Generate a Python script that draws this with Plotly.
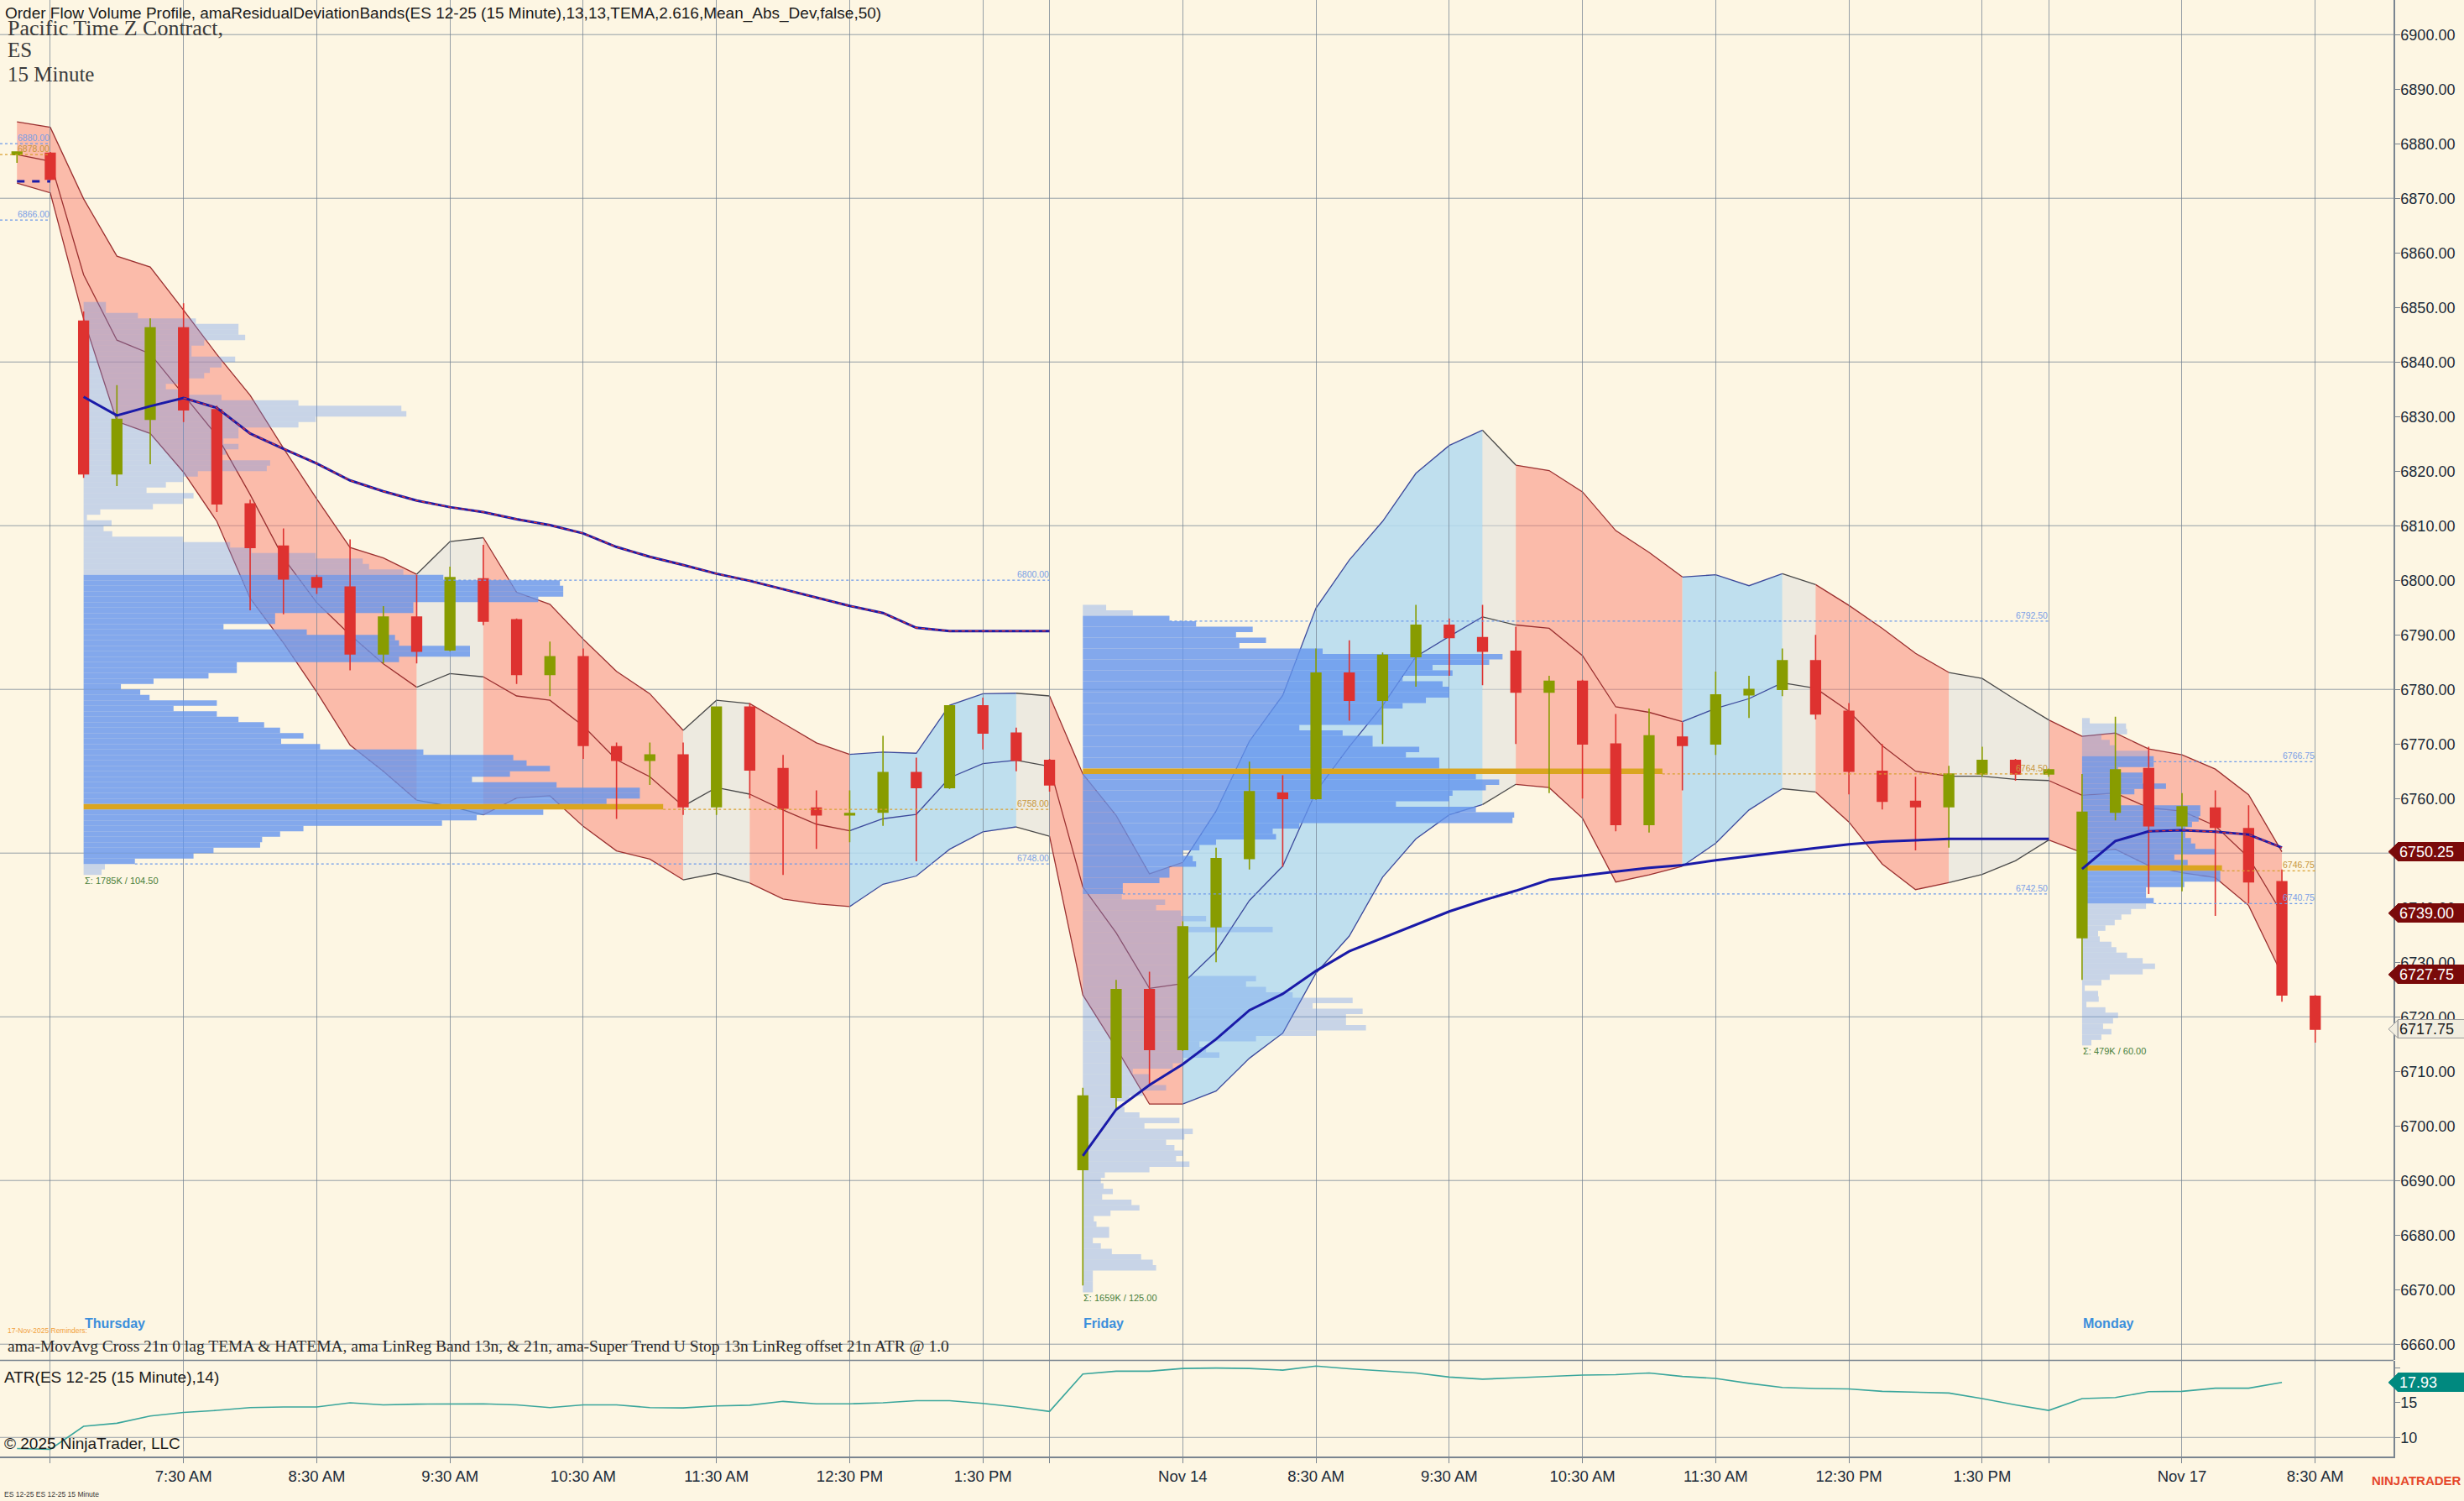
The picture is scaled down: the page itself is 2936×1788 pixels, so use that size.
import plotly.graph_objects as go

# ---------------------------------------------------------------- data
# x = bar number on the 15 minute chart (session 6:30 AM - 2:00 PM PT)
BAR_IDX = list(range(-1, 69))
OPEN = [6878.0, 6878.25, 6847.5, 6819.5, 6829.5, 6846.25, 6831.25, 6814.0, 6806.25, 6800.5,   # -1..8
        6798.75, 6786.5, 6793.25, 6787.25, 6800.25, 6792.75, 6782.75, 6786.0, 6769.5, 6767.0,  # 9..18
        6768.0, 6758.5, 6776.75, 6765.5, 6758.25, 6757.0, 6757.5, 6764.75, 6762.0, 6777.0,     # 19..28
        6772.0, 6767.0,                                                                        # 29..30
        6692.0, 6705.25, 6725.0, 6714.0, 6736.5, 6749.0, 6761.0, 6760.0, 6783.0, 6778.0,       # 31..40
        6786.0, 6791.75, 6789.5, 6787.0, 6779.5, 6781.5, 6770.0, 6755.25, 6771.25, 6770.0,     # 41..50
        6779.0, 6780.0, 6785.25, 6776.0, 6765.0, 6759.5, 6758.5, 6764.5, 6767.0, 6764.5,       # 51..60
        6734.5, 6757.5, 6765.5, 6755.0, 6758.25, 6754.5, 6744.75, 6723.75]                    # 61..68
HIGH = [6878.5, 6878.5, 6849.25, 6835.75, 6848.0, 6850.75, 6832.0, 6814.75, 6809.5, 6801.0,
        6807.5, 6795.25, 6801.0, 6802.5, 6806.5, 6793.0, 6788.75, 6787.5, 6770.25, 6770.25,
        6770.25, 6776.75, 6777.5, 6768.0, 6761.5, 6761.5, 6771.5, 6767.5, 6777.0, 6778.5,
        6773.0, 6767.25,
        6707.0, 6726.75, 6728.25, 6737.5, 6751.0, 6766.75, 6764.25, 6787.5, 6789.0, 6786.75,
        6795.5, 6793.0, 6795.5, 6791.5, 6782.5, 6781.75, 6775.5, 6776.5, 6774.0, 6783.25,
        6782.5, 6787.5, 6790.0, 6777.5, 6770.0, 6764.0, 6766.0, 6769.5, 6767.25, 6765.5,
        6764.5, 6775.0, 6769.5, 6761.0, 6761.5, 6758.75, 6747.0, 6724.0]
LOW = [6876.5, 6873.25, 6818.75, 6817.25, 6821.25, 6829.0, 6812.5, 6794.5, 6793.75, 6797.5,
       6783.5, 6784.75, 6784.75, 6787.0, 6791.75, 6781.0, 6778.75, 6767.25, 6756.25, 6762.5,
       6757.0, 6757.0, 6760.0, 6746.0, 6750.75, 6752.0, 6755.0, 6748.5, 6761.75, 6769.0,
       6765.0, 6761.25,
       6670.75, 6703.0, 6707.5, 6713.75, 6730.0, 6747.0, 6747.5, 6759.75, 6774.25, 6770.0,
       6780.5, 6782.5, 6780.75, 6770.0, 6761.0, 6760.0, 6754.0, 6753.75, 6761.5, 6768.0,
       6774.75, 6778.75, 6774.5, 6760.75, 6758.0, 6750.5, 6751.0, 6764.0, 6763.25, 6764.0,
       6726.75, 6756.0, 6742.5, 6743.0, 6738.5, 6740.75, 6722.75, 6715.25]
CLOSE = [6878.5, 6873.5, 6819.5, 6829.5, 6846.25, 6831.25, 6814.0, 6806.0, 6800.25, 6798.75,
         6786.5, 6793.25, 6787.0, 6800.5, 6792.5, 6782.75, 6786.0, 6769.75, 6767.0, 6768.0,
         6758.5, 6776.75, 6765.25, 6758.25, 6757.0, 6757.25, 6764.75, 6762.0, 6777.0, 6772.0,
         6767.0, 6762.5,
         6705.5, 6725.0, 6714.0, 6736.5, 6749.0, 6761.25, 6760.0, 6783.0, 6778.0, 6786.25,
         6791.75, 6789.5, 6787.0, 6779.5, 6781.5, 6770.0, 6755.25, 6771.5, 6769.75, 6779.0,
         6780.0, 6785.25, 6775.5, 6765.0, 6759.5, 6758.5, 6764.5, 6767.0, 6764.5, 6765.25,
         6757.5, 6765.25, 6755.0, 6758.5, 6754.75, 6744.75, 6724.0, 6717.75]

# amaResidualDeviationBands, bars -1..67
BAND_IDX = list(range(-1, 68))
BAND_UPPER = [6884.0, 6883.0, 6869.9, 6859.4, 6857.4, 6849.5, 6841.4, 6833.9, 6824.2, 6814.9,
              6806.0, 6804.1, 6801.1, 6807.1, 6807.8, 6797.8, 6795.6, 6789.2, 6783.3, 6779.2,
              6772.5, 6778.0, 6777.4, 6773.8, 6770.2, 6768.1, 6768.5, 6768.3, 6777.1, 6779.2,
              6779.3, 6778.8,
              6764.5, 6756.9, 6746.2, 6748.3, 6757.7, 6770.5, 6778.9, 6794.9, 6803.7, 6810.8,
              6819.6, 6824.7, 6827.5, 6821.1, 6820.1, 6816.2, 6809.1, 6805.1, 6800.6, 6801.0,
              6799.0, 6801.2, 6799.2, 6795.4, 6791.2, 6786.6, 6783.1, 6782.0, 6778.1, 6774.4,
              6771.4, 6772.0, 6769.1, 6768.0, 6765.4, 6760.7, 6750.25]
BAND_MID = [6878.0, 6876.8, 6856.0, 6844.0, 6841.5, 6834.0, 6826.5, 6815.7, 6804.1, 6795.9,
            6790.0, 6784.7, 6780.4, 6782.9, 6782.3, 6778.8, 6778.0, 6773.3, 6767.1, 6764.0,
            6758.6, 6762.0, 6760.8, 6757.9, 6755.3, 6754.1, 6756.3, 6757.1, 6763.8, 6766.4,
            6767.0, 6765.9,
            6743.8, 6735.4, 6725.2, 6726.1, 6732.0, 6741.3, 6747.6, 6761.3, 6769.5, 6777.0,
            6786.0, 6789.7, 6793.3, 6791.8, 6791.2, 6786.2, 6776.8, 6775.8, 6774.1, 6776.5,
            6778.3, 6781.2, 6780.2, 6776.0, 6769.7, 6765.0, 6764.1, 6764.1, 6763.5, 6763.3,
            6760.6, 6761.0, 6758.3, 6757.7, 6755.0, 6749.2, 6739.0]
BAND_LOWER = [6872.8, 6871.0, 6847.9, 6829.1, 6826.9, 6819.8, 6810.8, 6796.7, 6788.5, 6779.5,
              6769.8, 6765.0, 6759.7, 6758.6, 6757.0, 6760.1, 6760.5, 6754.9, 6750.4, 6748.9,
              6745.1, 6746.3, 6744.5, 6741.6, 6740.7, 6740.2, 6744.3, 6745.8, 6750.7, 6753.9,
              6754.8, 6753.1,
              6724.0, 6714.3, 6704.0, 6704.0, 6706.4, 6712.4, 6717.0, 6728.0, 6734.8, 6745.6,
              6752.6, 6757.0, 6758.9, 6762.6, 6762.0, 6756.4, 6744.7, 6746.0, 6747.6, 6751.8,
              6757.9, 6761.8, 6761.2, 6755.7, 6748.0, 6743.3, 6744.6, 6746.1, 6748.6, 6752.4,
              6750.1, 6750.7, 6747.7, 6746.4, 6745.5, 6740.4, 6727.75]
# trend of the band segment that starts at each bar (d = down, u = up, f = flat)
BAND_TREND = ["d", "d", "d", "d", "d", "d", "d", "d", "d", "d", "d", "d",   # -1..10
              "f", "f", "d", "d", "d", "d", "d", "d", "f", "f",             # 11..20
              "d", "d", "d", "u", "u", "u", "u", "u", "f",                  # 21..29
              "d", "d", "d", "d", "u", "u", "u", "u", "u", "u", "u", "u", "u",  # 30..42
              "f", "d", "d", "d", "d", "d", "u", "u", "u", "f",             # 43..52
              "d", "d", "d", "d", "f", "f", "f",                            # 53..59
              "d", "d", "d", "d", "d", "d", "d"]                            # 60..66

# session moving average
MA_PREV_IDX = [-1, 0]
MA_PREV = [6873.1, 6873.1]
MA_THU_IDX = list(range(1, 31))
MA_THU = [6833.6, 6830.2, 6831.9, 6833.4, 6831.6, 6826.9, 6824.1, 6821.4, 6818.3, 6816.3,
          6814.6, 6813.4, 6812.5, 6811.2, 6810.1, 6808.6, 6806.1, 6804.3, 6802.8, 6801.2,
          6799.9, 6798.4, 6796.9, 6795.3, 6794.0, 6791.3, 6790.7, 6790.7, 6790.7, 6790.7]
MA_FRI_IDX = list(range(31, 61))
MA_FRI = [6694.5, 6703.0, 6707.5, 6711.3, 6715.9, 6721.2, 6724.2, 6728.4, 6732.0, 6734.4,
          6736.8, 6739.3, 6741.3, 6743.1, 6745.1, 6745.9, 6746.6, 6747.3, 6747.8, 6748.7,
          6749.5, 6750.2, 6750.9, 6751.6, 6752.1, 6752.4, 6752.6, 6752.6, 6752.6, 6752.6]
MA_MON_IDX = list(range(61, 68))
MA_MON = [6747.1, 6752.2, 6754.0, 6754.2, 6753.9, 6753.4, 6751.0]
MA_FALL_START = [4, 63]
MA_FALL_END = [30, 67]

# ATR(14), bars -1..67
ATR_IDX = list(range(-1, 68))
ATR = [8.4, 8.3, 11.6, 12.05, 13.1, 13.6, 13.9, 14.3, 14.4, 14.4,
       15.0, 14.7, 14.8, 14.85, 14.85, 14.7, 14.3, 14.7, 14.7, 14.3,
       14.25, 14.55, 14.65, 15.2, 14.85, 14.85, 15.0, 15.3, 15.3, 14.9,
       14.4, 13.75,
       19.15, 19.55, 19.55, 19.95, 20.0, 19.95, 19.7, 20.3, 19.9, 19.6,
       19.3, 18.7, 18.4, 18.6, 18.8, 19.0, 19.05, 19.3, 18.8, 18.5,
       17.8, 17.2, 17.05, 17.0, 16.65, 16.5, 16.4, 15.6, 14.7, 13.9,
       15.6, 15.75, 16.6, 16.65, 17.1, 17.1, 17.93]

# volume profiles: one row per point, widths in bars, rows listed from the top
THU_ANCHOR, THU_ROW_TOP = 1, 6850.5
THU_WIDTHS = [0.67, 0.67, 1.63, 3.37, 4.65, 4.65, 4.85, 3.62, 3.24, 3.24,
              4.55, 4.14, 3.79, 3.62, 2.98, 2.47, 2.85, 4.14, 6.45, 9.54,
              9.69, 6.97, 6.45, 4.65, 4.65, 4.2, 4.65, 4.27, 4.14, 5.6,
              5.5, 3.43, 2.98, 2.47, 1.89, 3.3, 2.98, 2.08, 0.5, 0.1,
              0.84, 0.6, 0.86, 2.98, 4.4, 5.04, 6.97, 8.38, 8.57, 9.6,
              10.8, 14.3, 14.4, 14.4, 13.65, 9.9, 9.9, 5.75, 5.75, 4.2,
              6.7, 9.35, 9.47, 11.6, 11.6, 9.47, 4.6, 4.6, 3.75, 2.1,
              1.12, 1.7, 1.98, 4.0, 2.7, 4.0, 4.65, 5.42, 5.9, 6.6,
              5.93, 7.1, 10.2, 12.9, 13.3, 14.0, 12.8, 11.66, 14.2, 16.7,
              16.7, 15.7, 17.4, 13.8, 11.8, 10.76, 6.6, 5.9, 5.36, 5.3,
              3.9, 3.3, 1.54, 0.64, 0.54]
FRI_ANCHOR, FRI_ROW_TOP = 31, 6795.0
FRI_WIDTHS = [0.7, 1.5, 2.6, 3.4, 5.1, 4.6, 5.5, 4.7, 7.2, 12.6,
              12.2, 10.5, 11.1, 9.6, 10.8, 11.0, 11.0, 10.3, 9.6, 9.0,
              9.0, 9.0, 6.5, 7.8, 8.7, 8.7, 10.1, 9.7, 10.7, 10.7,
              17.4, 11.8, 12.5, 12.1, 11.1, 11.0, 9.4, 11.8, 12.95, 12.9,
              6.5, 5.7, 5.8, 4.0, 3.5, 3.0, 3.3, 3.4, 2.6, 2.6,
              2.3, 1.2, 1.2,
              1.17, 2.47, 2.2, 2.95, 3.7, 2.95, 5.7, 2.97, 3.0, 3.0,
              3.0, 3.0, 3.0, 3.0, 3.0, 5.2, 4.9, 5.5, 6.3, 8.1,
              6.9, 8.4, 7.9, 7.9, 8.5, 7.0, 5.2, 3.5, 3.7, 4.1,
              3.0, 2.7, 1.5, 2.0, 2.0, 2.5, 1.8, 1.4, 1.0, 1.25,
              1.7, 2.9, 1.85, 3.3, 3.05, 2.5, 2.75, 3.0, 2.8, 3.2,
              2.0, 0.66, 0.54, 0.62, 0.9, 0.58, 1.46, 1.7, 0.83, 0.33,
              0.41, 0.79, 0.79, 0.3, 0.54, 0.87, 1.75, 2.1, 2.2, 0.3,
              0.3, 0.3, 0.3]
MON_ANCHOR, MON_ROW_TOP = 61, 6774.25
MON_WIDTHS = [0.23, 1.32, 1.35, 0.58, 0.83, 1.0, 2.0, 2.15, 2.15, 1.08,
              1.82, 1.82, 2.52, 1.57, 1.08, 1.08, 3.55, 3.55, 3.5, 3.3,
              3.1, 3.1, 3.27, 3.4, 4.0, 2.77, 3.17, 4.2, 4.15, 4.15,
              3.07, 1.92, 1.92, 2.15, 1.92, 1.47, 1.18, 0.98, 0.7, 0.48,
              0.53, 0.88, 1.03, 1.35, 1.82, 2.19, 1.82, 0.83, 0.58, 0.08,
              0.48, 0.5, 0.13, 0.7, 1.08, 0.93, 0.63, 0.88, 0.58, 0.28]

# value area high / point of control / value area low per session
LEVEL_END = [0, 30, 60, 68]
LEVEL_VAH = [6880.00, 6800.00, 6792.50, 6766.75]
LEVEL_POC = [6878.00, 6758.00, 6764.50, 6746.75]
LEVEL_VAL = [6866.00, 6748.00, 6742.50, 6740.75]
SIGMA_TEXT = ["Σ: 1785K / 104.50", "Σ: 1659K / 125.00", "Σ: 479K / 60.00"]

DAY_NAMES = ["Thursday", "Friday", "Monday"]
DAY_START = [1, 31, 61]

TICK_IDX = [0, 4, 8, 12, 16, 20, 24, 28, 30, 34, 38, 42, 46, 50, 54, 58, 60, 64, 68]
TICK_TEXT = ["", "7:30 AM", "8:30 AM", "9:30 AM", "10:30 AM", "11:30 AM", "12:30 PM", "1:30 PM",
             "", "Nov 14", "8:30 AM", "9:30 AM", "10:30 AM", "11:30 AM", "12:30 PM", "1:30 PM",
             "", "Nov 17", "8:30 AM"]
PRICE_TICKS = list(range(6660, 6901, 10))
PRICE_GRID = list(range(6660, 6901, 30))
ATR_TICKS = [10, 15, 20]
ATR_GRID = [10]

for arr in (OPEN, HIGH, LOW, CLOSE):
    assert len(arr) == len(BAR_IDX)
for arr in (BAND_UPPER, BAND_MID, BAND_LOWER, ATR):
    assert len(arr) == len(BAND_IDX)
assert len(BAND_TREND) == len(BAND_IDX) - 1

# ---------------------------------------------------------------- style
SANS = "Arial, Liberation Sans, sans-serif"
SERIF = "Liberation Serif, Times New Roman, serif"
BG = "#FDF6E3"
INK = "#1B2A38"
GRID = "rgba(115,130,145,0.75)"
AXIS = "#7A8590"
UP_CANDLE = "#889C00"
DN_CANDLE = "#DE3230"
BAND_FILL = {"d": "rgba(250,128,114,0.5)", "u": "rgba(180,218,240,0.85)", "f": "rgba(222,222,222,0.5)"}
BAND_EDGE = {"d": "#9B3030", "u": "#3C4A9C", "f": "#4A4A4A"}
PROFILE_OUT = "rgba(100,149,237,0.35)"
PROFILE_VA = "rgba(100,149,237,0.8)"
PROFILE_POC = "#DAA520"
LEVEL_BLUE = "#6E9BEA"
LEVEL_GOLD = "#D9A030"

W, H = 2936, 1788
M_L, M_R, M_T, M_B = 0, 84, 0, 53
PLOT_W = W - M_L - M_R
PLOT_H = H - M_T - M_B
X_MIN, X_MAX = -1.51, 70.35
Y_MIN, Y_MAX = 6657.11, 6906.34
ATR_MIN, ATR_MAX = 7.25, 21.05


def px_x(x):
    return (x - M_L) / PLOT_W


def px_y(y):
    return (H - M_B - y) / PLOT_H


fig = go.Figure()


def note(text, x, y, size, family=SANS, color=INK, xanchor="left", xref="paper", yref="paper",
         yanchor="middle"):
    fig.add_annotation(text=text, x=x, y=y, xref=xref, yref=yref, xanchor=xanchor,
                       yanchor=yanchor, showarrow=False, borderpad=0,
                       font=dict(family=family, size=size, color=color))


# grid lines and panel separator
for lvl in PRICE_GRID:
    fig.add_shape(type="line", xref="paper", x0=0, x1=1, yref="y", y0=lvl, y1=lvl,
                  line=dict(color=GRID, width=1), layer="below")
for lvl in ATR_GRID:
    fig.add_shape(type="line", xref="paper", x0=0, x1=1, yref="y2", y0=lvl, y1=lvl,
                  line=dict(color=GRID, width=1), layer="below")
fig.add_shape(type="line", xref="paper", x0=0, x1=1, yref="paper", y0=px_y(1620.5), y1=px_y(1620.5),
              line=dict(color=AXIS, width=1.5), layer="above")


# residual deviation bands, one polygon per run of equal trend
def trend_runs(states):
    out, start = [], 0
    for i in range(1, len(states) + 1):
        if i == len(states) or states[i] != states[start]:
            out.append((start, i, states[start]))
            start = i
    return out


def to_path(xs, ys, close=False):
    p = "M " + " L ".join(f"{x},{y}" for x, y in zip(xs, ys))
    return p + (" Z" if close else "")


for s, e, state in trend_runs(BAND_TREND):
    xs = BAND_IDX[s:e + 1]
    up, mid, lo = BAND_UPPER[s:e + 1], BAND_MID[s:e + 1], BAND_LOWER[s:e + 1]
    fig.add_shape(type="path", xref="x", yref="y", path=to_path(xs + xs[::-1], up + lo[::-1], True),
                  fillcolor=BAND_FILL[state], line=dict(width=0), layer="below")
    for series in (up, mid, lo):
        fig.add_shape(type="path", xref="x", yref="y", path=to_path(xs, series),
                      fillcolor="rgba(0,0,0,0)", line=dict(color=BAND_EDGE[state], width=1.3),
                      layer="below")

# volume profiles
profiles = [(THU_ANCHOR, THU_ROW_TOP, THU_WIDTHS, 1), (FRI_ANCHOR, FRI_ROW_TOP, FRI_WIDTHS, 2),
            (MON_ANCHOR, MON_ROW_TOP, MON_WIDTHS, 3)]
row_lookup = {}
for anchor, top, widths, k in profiles:
    rows = [top - i for i in range(len(widths))]
    poc = widths.index(max(widths))
    colors = []
    for i, c in enumerate(rows):
        if i == poc:
            colors.append(PROFILE_POC)
        elif LEVEL_VAL[k] <= c <= LEVEL_VAH[k] + 0.5:
            colors.append(PROFILE_VA)
        else:
            colors.append(PROFILE_OUT)
    fig.add_trace(go.Bar(orientation="h", y=rows, x=widths, base=anchor, width=1.0,
                         marker=dict(color=colors, line=dict(width=0)),
                         hoverinfo="skip", showlegend=False))
    row_lookup[k] = (anchor, rows, widths)
    note(SIGMA_TEXT[k - 1], anchor, rows[-1] - 0.5, 11, color="#4A7F3A", xref="x", yref="y",
         yanchor="top")

# value area / POC dotted levels with their labels
for k in range(len(LEVEL_END)):
    for lvl, col in ((LEVEL_VAH[k], LEVEL_BLUE), (LEVEL_POC[k], LEVEL_GOLD), (LEVEL_VAL[k], LEVEL_BLUE)):
        if k in row_lookup:
            anchor, rows, widths = row_lookup[k]
            j = min(range(len(rows)), key=lambda i: abs(rows[i] - lvl))
            start = anchor + widths[j]
        else:
            start = X_MIN
        fig.add_trace(go.Scatter(x=[start, LEVEL_END[k]], y=[lvl, lvl], mode="lines",
                                 line=dict(color=col, width=1.2, dash="dot"),
                                 hoverinfo="skip", showlegend=False))
        note(f"{lvl:.2f}", LEVEL_END[k], lvl, 10.5,
             color="#7B9FE6" if col == LEVEL_BLUE else "#C8963C",
             xanchor="right", xref="x", yref="y", yanchor="bottom")

# session moving averages
fig.add_trace(go.Scatter(x=MA_PREV_IDX, y=MA_PREV, mode="lines",
                         line=dict(color="#1A1AA8", width=3, dash="dash"),
                         hoverinfo="skip", showlegend=False))
for xs, ys in ((MA_THU_IDX, MA_THU), (MA_FRI_IDX, MA_FRI), (MA_MON_IDX, MA_MON)):
    fig.add_trace(go.Scatter(x=xs, y=ys, mode="lines", line=dict(color="#1A1AA8", width=3),
                             hoverinfo="skip", showlegend=False))
    for a, b in zip(MA_FALL_START, MA_FALL_END):
        if xs[0] <= a <= xs[-1]:
            i0, i1 = xs.index(a), xs.index(b)
            fig.add_trace(go.Scatter(x=xs[i0:i1 + 1], y=ys[i0:i1 + 1], mode="lines",
                                     line=dict(color="#E03030", width=1.3, dash="4px,4px"),
                                     hoverinfo="skip", showlegend=False))

# candles
fig.add_trace(go.Candlestick(
    x=BAR_IDX, open=OPEN, high=HIGH, low=LOW, close=CLOSE,
    increasing=dict(fillcolor=UP_CANDLE, line=dict(color=UP_CANDLE, width=1.6)),
    decreasing=dict(fillcolor=DN_CANDLE, line=dict(color=DN_CANDLE, width=1.6)),
    whiskerwidth=0, hoverinfo="skip", showlegend=False))

# ATR panel
fig.add_trace(go.Scatter(x=ATR_IDX, y=ATR, mode="lines", yaxis="y2",
                         line=dict(color="#3AA69C", width=1.6), hoverinfo="skip", showlegend=False))


# price tags on the right axis
def price_tag(value, yref, bg, fg, edge, units_per_px):
    half = 10.5 * units_per_px
    x_tip, x_box = px_x(2846), px_x(2857)
    fig.add_shape(type="path", xref="paper", yref=yref,
                  path=f"M {x_tip},{value} L {x_box},{value + half} L {x_box},{value - half} Z",
                  fillcolor=bg, line=dict(color=edge, width=1), layer="above")
    fig.add_annotation(text=f"{value:.2f}", x=x_box, y=value, xref="paper", yref=yref,
                       xanchor="left", yanchor="middle", showarrow=False, align="left",
                       bgcolor=bg, bordercolor=edge, borderwidth=1, borderpad=1, width=76, height=19,
                       font=dict(family=SANS, size=18, color=fg))


price_px = 1 / 6.5
price_tag(BAND_UPPER[-1], "y", "#7A0A0A", "white", "#7A0A0A", price_px)
price_tag(BAND_MID[-1], "y", "#7A0A0A", "white", "#7A0A0A", price_px)
price_tag(BAND_LOWER[-1], "y", "#7A0A0A", "white", "#7A0A0A", price_px)
price_tag(CLOSE[-1], "y", "#F2EEE0", "#1B1B1B", "#9A9A9A", price_px)
price_tag(ATR[-1], "y2", "#00897F", "white", "#00897F", 1 / 8.26)

# texts
note("Order Flow Volume Profile, amaResidualDeviationBands(ES 12-25 (15 Minute),13,13,TEMA,2.616,"
     "Mean_Abs_Dev,false,50)", px_x(5), px_y(16), 19, color="#1A1A1A")
note("Pacific Time Z Contract,", px_x(8), px_y(33), 26, family=SERIF, color="#3A3A3A")
note("ES", px_x(8), px_y(59), 25, family=SERIF, color="#3A3A3A")
note("15 Minute", px_x(8), px_y(88), 25, family=SERIF, color="#3A3A3A")
note("17-Nov-2025 Reminders:", px_x(8), px_y(1585), 8.5, color="#F2A13C")
for name, start in zip(DAY_NAMES, DAY_START):
    note(f"<b>{name}</b>", start, px_y(1576), 16, color="#3B8FDC", xref="x")
note("ama-MovAvg Cross 21n 0 lag TEMA &amp; HATEMA, ama LinReg Band 13n, &amp; 21n, ama-Super Trend "
     "U Stop 13n LinReg offset 21n ATR @ 1.0", px_x(8), px_y(1603), 19.5, family=SERIF, color="#2A2A2A")
note("ATR(ES 12-25 (15 Minute),14)", px_x(4), px_y(1640), 19, color="#1A1A1A")
note("© 2025 NinjaTrader, LLC", px_x(4), px_y(1719), 19, color="#1A1A1A")
note("ES 12-25 ES 12-25 15 Minute", px_x(4), px_y(1780), 8.5, color="#333333")
note("<b>NINJATRADER</b>", px_x(2934), px_y(1763), 15, color="#E5482B", xanchor="right")

axis_font = dict(family=SANS, size=18, color=INK)
fig.update_layout(
    width=W, height=H, margin=dict(l=M_L, r=M_R, t=M_T, b=M_B),
    paper_bgcolor=BG, plot_bgcolor=BG, showlegend=False,
    barmode="overlay", boxgap=0.58, hovermode=False,
    xaxis=dict(range=[X_MIN, X_MAX], tickmode="array", tickvals=TICK_IDX, ticktext=TICK_TEXT,
               showgrid=True, gridcolor=GRID, gridwidth=1, zeroline=False,
               showline=True, linecolor=AXIS, linewidth=1.5, ticks="outside", ticklen=6,
               tickcolor=AXIS, tickfont=dict(family=SANS, size=18.5, color=INK), anchor="y2",
               rangeslider=dict(visible=False)),
    yaxis=dict(domain=[px_y(1620), 1], range=[Y_MIN, Y_MAX], side="right", anchor="x",
               tickmode="array", tickvals=PRICE_TICKS, ticktext=[f"{v:.2f}" for v in PRICE_TICKS],
               showgrid=False, zeroline=False, showline=True, linecolor=AXIS, linewidth=1.5,
               ticks="outside", ticklen=6, tickcolor=AXIS, tickfont=axis_font, ticklabelstandoff=-3),
    yaxis2=dict(domain=[0, px_y(1621)], range=[ATR_MIN, ATR_MAX], side="right", anchor="x",
                tickmode="array", tickvals=ATR_TICKS, ticktext=["10", "15", ""],
                showgrid=False, zeroline=False, showline=True, linecolor=AXIS, linewidth=1.5,
                ticks="outside", ticklen=6, tickcolor=AXIS, tickfont=axis_font, ticklabelstandoff=-3),
)

# the page body has a default margin; drop it so the figure sits at the window corner
fig.write_html("out.html", config={"displayModeBar": False},
               post_script="document.body.style.margin='0px';")
